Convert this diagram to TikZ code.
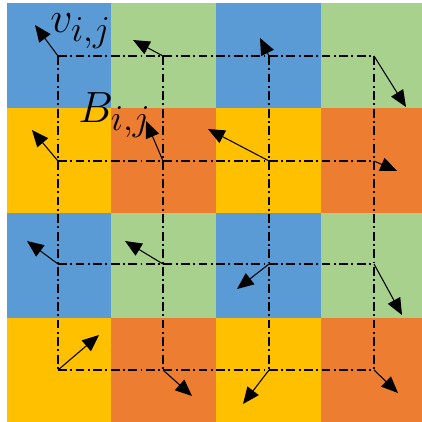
\documentclass[tikz,border=0pt]{standalone}
\usepackage{amsmath}
\usepackage{xcolor}
\usepackage{tikz}
\usetikzlibrary{arrows.meta}
\definecolor{cblue}{HTML}{5B9BD5}
\definecolor{cgreen}{HTML}{A9D18E}
\definecolor{cyellow}{HTML}{FFC000}
\definecolor{corange}{HTML}{ED7D31}

\begin{document}
\begin{tikzpicture}[x=0.03cm,y=-0.03cm,
  gridline/.style={line width=2.3pt,dash pattern=on 7.5pt off 3pt on 1.5pt off 3pt},
  vec/.style={-{Triangle[length=5mm,width=4.2mm]},line width=0.9pt},
  lab/.style={inner sep=0pt,font=\Huge,scale=1.5}]
  \useasboundingbox (0,0) rectangle (422,422);
  % colour cells
  \foreach \ya/\yb/\ca/\cb in {3/108/cblue/cgreen,108/213/cyellow/corange,213/318/cblue/cgreen,318/422/cyellow/corange}
    \foreach \xa/\xb/\cc in {7/111/\ca,111/216/\cb,216/321/\ca,321/422/\cb}
      \fill[\cc] (\xa,\ya) rectangle (\xb,\yb);
  % vertices
  \foreach \i/\y in {1/56,2/161,3/264,4/370}
    \foreach \j/\x in {1/58,2/163,3/269,4/374}
      \coordinate (v\i\j) at (\x,\y);
  \foreach \i in {1,...,4} {
    \draw[gridline] (v\i1) -- (v\i4);
    \draw[gridline] (v1\i) -- (v4\i);
  }
  % vectors
  \foreach \n/\x/\y in {11/35/25,12/133/40,13/260/38,14/406/107,
                        21/32/130,22/146/121,23/208/129,24/397/171,
                        31/27/241,32/125/241,33/237/289,34/402/315,
                        41/99/335,42/192/396,43/243/404,44/398/393} {
    \coordinate (t\n) at (\x,\y);
    \draw[vec] (v\n) -- (t\n);
  }
  \node[lab,anchor=base west] (vlab) at (50,33) {$v_{i,j}$};
  \node[lab,anchor=base west] (blab) at (78,122) {$B_{i,j}$};
\end{tikzpicture}
\end{document}
